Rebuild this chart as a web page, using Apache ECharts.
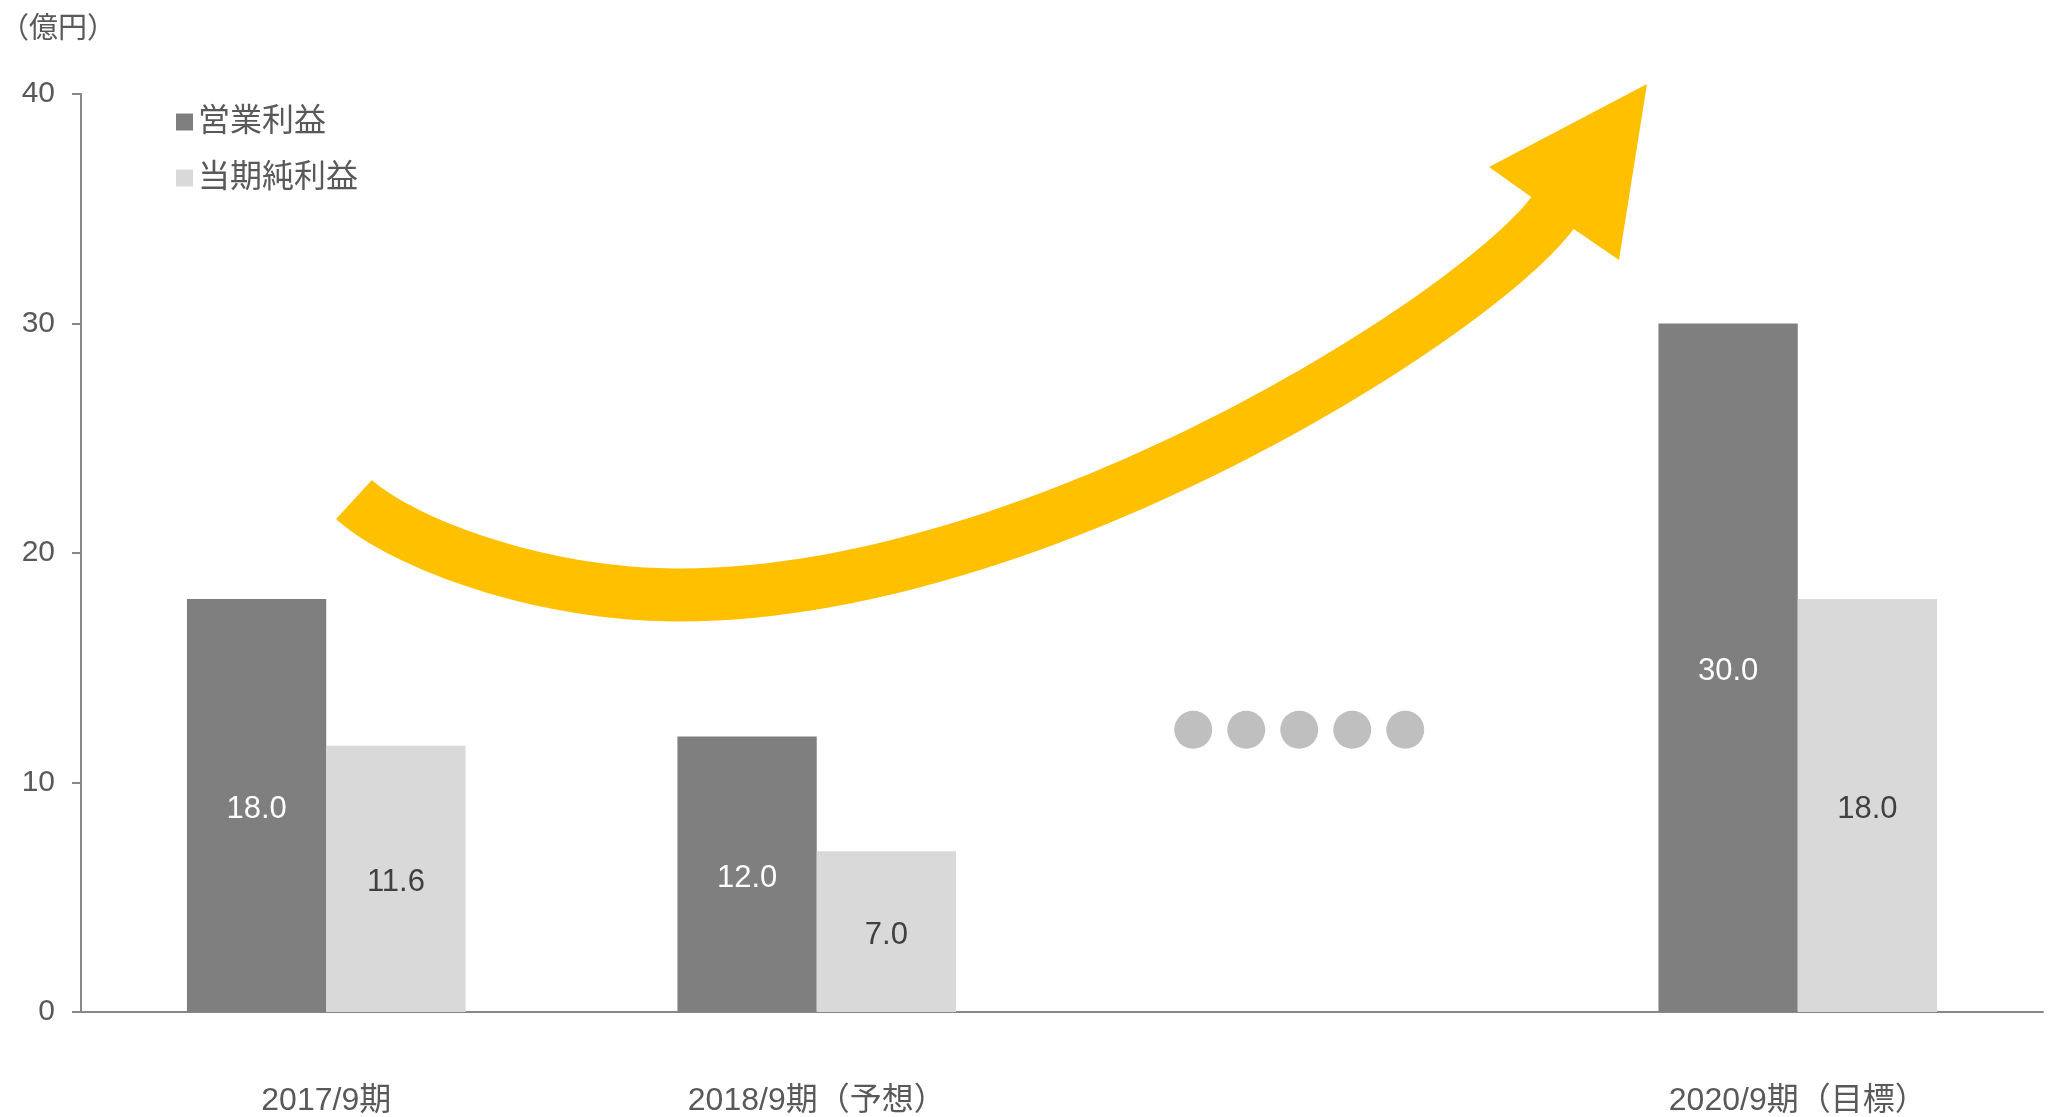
<!DOCTYPE html>
<html>
<head>
<meta charset="utf-8">
<style>
  html, body { margin: 0; padding: 0; background: #ffffff; }
  #chart { width: 2056px; height: 1117px; }
</style>
<script src="https://cdn.jsdelivr.net/npm/echarts@6/dist/echarts.min.js"></script>
</head>
<body>
<div id="chart"></div>
<script>
// Periods on the x axis (the third slot is the gap shown as "・・・・・")
const categories = ['2017/9期', '2018/9期（予想）', '', '2020/9期（目標）'];
// Operating profit, 100 million yen
const operatingProfit = [18.0, 12.0, '-', 30.0];
// Net profit for the period, 100 million yen
const netProfit = [11.6, 7.0, '-', 18.0];
// Value-axis ticks
const yTicks = [0, 10, 20, 30, 40];

const seriesNames = ['営業利益', '当期純利益'];
const unitLabel = '（億円）';

const FONT = "'Liberation Sans', Arial, 'Noto Sans CJK JP', sans-serif";
const TEXT = '#595959';
const AXIS = '#878787';
const DARK = '#7f7f7f';
const LIGHT = '#d9d9d9';
const GOLD = '#ffc000';

const chart = echarts.init(document.getElementById('chart'), null, { renderer: 'canvas' });

// Growth arrow (screen pixels): shaft centre line as two cubic Bézier pieces
// joined at the lowest point, a constant shaft half-width, and the head triangle.
const shaftCurves = [
  [[354, 499.5], [396, 538], [530, 595], [680, 595]],
  [[680, 595], [1035, 595], [1474.5, 317], [1552.5, 213]]
];
const shaftHalf = 26.5;
const headPts = [[1489, 167], [1647, 84], [1619, 260]];

function bezier(c, t) {
  const u = 1 - t;
  const a = u * u * u, b = 3 * u * u * t, d = 3 * u * t * t, e = t * t * t;
  const p = [a * c[0][0] + b * c[1][0] + d * c[2][0] + e * c[3][0],
             a * c[0][1] + b * c[1][1] + d * c[2][1] + e * c[3][1]];
  const da = 3 * u * u, db = 6 * u * t, dc = 3 * t * t;
  const tan = [da * (c[1][0] - c[0][0]) + db * (c[2][0] - c[1][0]) + dc * (c[3][0] - c[2][0]),
               da * (c[1][1] - c[0][1]) + db * (c[2][1] - c[1][1]) + dc * (c[3][1] - c[2][1])];
  return { p, tan };
}

function buildArrow() {
  const upper = [], lower = [];
  shaftCurves.forEach((c, k) => {
    const steps = 60;
    for (let s = (k === 0 ? 0 : 1); s <= steps; s++) {
      const { p, tan } = bezier(c, s / steps);
      const len = Math.hypot(tan[0], tan[1]);
      const nx = tan[1] / len, ny = -tan[0] / len;
      upper.push([p[0] + nx * shaftHalf, p[1] + ny * shaftHalf]);
      lower.push([p[0] - nx * shaftHalf, p[1] - ny * shaftHalf]);
    }
  });
  return upper.concat(headPts, lower.reverse());
}

const option = {
  animation: false,
  backgroundColor: '#ffffff',
  textStyle: { fontFamily: FONT },
  grid: { left: 81, right: 13, top: 94, bottom: 105, containLabel: false },
  legend: {
    orient: 'vertical',
    left: 171,
    top: 101,
    itemWidth: 17,
    itemHeight: 17,
    itemGap: 24,
    icon: 'rect',
    selectedMode: false,
    textStyle: { fontSize: 32, color: TEXT, fontFamily: FONT },
    data: seriesNames
  },
  xAxis: {
    type: 'category',
    data: categories,
    axisLine: { show: true, lineStyle: { color: AXIS, width: 2 } },
    axisTick: { show: false },
    axisLabel: { fontSize: 32, color: TEXT, margin: 73, fontFamily: FONT, interval: 0 },
    splitLine: { show: false }
  },
  yAxis: {
    type: 'value',
    min: yTicks[0],
    max: yTicks[yTicks.length - 1],
    interval: yTicks[1] - yTicks[0],
    axisLine: { show: true, lineStyle: { color: AXIS, width: 2 } },
    axisTick: { show: true, length: 9, lineStyle: { color: AXIS, width: 2 } },
    axisLabel: { fontSize: 30, color: TEXT, margin: 26, fontFamily: FONT },
    splitLine: { show: false }
  },
  series: [
    {
      name: seriesNames[0],
      type: 'bar',
      data: operatingProfit,
      barWidth: '28.4%',
      barGap: '0%',
      itemStyle: { color: DARK },
      label: {
        show: true, position: 'inside', offset: [0, 4], color: '#ffffff', fontSize: 31, fontFamily: FONT,
        formatter: p => Number(p.value).toFixed(1)
      }
    },
    {
      name: seriesNames[1],
      type: 'bar',
      data: netProfit,
      barWidth: '28.4%',
      barGap: '0%',
      itemStyle: { color: LIGHT },
      label: {
        show: true, position: 'inside', offset: [0, 4], color: '#404040', fontSize: 31, fontFamily: FONT,
        formatter: p => Number(p.value).toFixed(1)
      }
    }
  ]
};

chart.setOption(option);

// Ellipsis dots placed in the empty period slot, plus unit label and arrow
const gapX = chart.convertToPixel({ xAxisIndex: 0 }, 2);
const dotY = chart.convertToPixel({ yAxisIndex: 0 }, 12.3);
const dots = [-114, -61, -8, 45, 98].map(dx => ({
  type: 'circle',
  shape: { cx: gapX + dx, cy: dotY, r: 19 },
  style: { fill: '#bfbfbf' },
  silent: true
}));

chart.setOption({
  graphic: [
    {
      type: 'text',
      left: 0,
      top: 12,
      style: { text: unitLabel, font: "29px 'Noto Sans CJK JP', sans-serif", fill: TEXT }
    },
    {
      type: 'polygon',
      shape: { points: buildArrow() },
      style: { fill: GOLD },
      silent: true,
      z: 10
    }
  ].concat(dots)
});
</script>
</body>
</html>
